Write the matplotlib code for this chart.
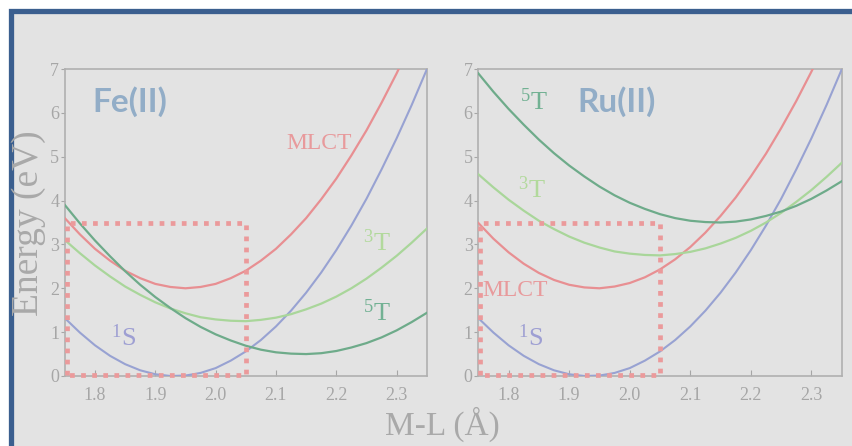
import matplotlib.pyplot as plt
from matplotlib.patches import Rectangle

# bond length grid (Angstrom) and potential energy curves (eV)
dist = [1.750, 1.775, 1.800, 1.825, 1.850, 1.875, 1.900, 1.925, 1.950, 1.975,
        2.000, 2.025, 2.050, 2.075, 2.100, 2.125, 2.150, 2.175, 2.200, 2.225,
        2.250, 2.275, 2.300, 2.325, 2.350]

fe_1s = [1.32, 0.99, 0.70, 0.46, 0.27, 0.13, 0.04, 0.00, 0.01, 0.07,
         0.18, 0.35, 0.56, 0.82, 1.13, 1.49, 1.90, 2.36, 2.87, 3.43,
         4.04, 4.71, 5.42, 6.18, 6.99]
fe_mlct = [3.60, 3.23, 2.90, 2.63, 2.40, 2.23, 2.10, 2.03, 2.00, 2.03,
           2.10, 2.23, 2.40, 2.63, 2.90, 3.23, 3.60, 4.03, 4.50, 5.03,
           5.60, 6.23, 6.90, 7.63, 8.40]
fe_3t = [3.10, 2.80, 2.52, 2.27, 2.04, 1.85, 1.68, 1.54, 1.43, 1.34,
         1.29, 1.26, 1.25, 1.28, 1.33, 1.41, 1.52, 1.65, 1.81, 2.00,
         2.22, 2.47, 2.74, 3.04, 3.36]
fe_5t = [3.90, 3.48, 3.09, 2.73, 2.39, 2.08, 1.80, 1.55, 1.32, 1.12,
         0.95, 0.81, 0.69, 0.60, 0.54, 0.51, 0.50, 0.52, 0.57, 0.65,
         0.75, 0.88, 1.04, 1.23, 1.44]

ru_1s = [1.32, 0.99, 0.70, 0.46, 0.27, 0.13, 0.04, 0.00, 0.01, 0.07,
         0.18, 0.35, 0.56, 0.82, 1.13, 1.49, 1.90, 2.36, 2.87, 3.43,
         4.04, 4.71, 5.42, 6.18, 6.99]
ru_mlct = [3.49, 3.13, 2.82, 2.56, 2.35, 2.19, 2.08, 2.02, 2.00, 2.04,
           2.12, 2.25, 2.43, 2.66, 2.94, 3.27, 3.65, 4.07, 4.55, 5.07,
           5.65, 6.27, 6.94, 7.66, 8.43]
ru_3t = [4.60, 4.30, 4.02, 3.77, 3.54, 3.35, 3.18, 3.04, 2.93, 2.84,
         2.79, 2.76, 2.75, 2.78, 2.83, 2.91, 3.02, 3.15, 3.31, 3.50,
         3.72, 3.97, 4.24, 4.54, 4.86]
ru_5t = [6.90, 6.48, 6.09, 5.73, 5.39, 5.08, 4.80, 4.55, 4.32, 4.12,
         3.95, 3.81, 3.69, 3.60, 3.54, 3.51, 3.50, 3.52, 3.57, 3.65,
         3.75, 3.88, 4.04, 4.23, 4.44]

# highlighted region (x range, energy range), closed outline
box_x = [1.753, 1.753, 2.05, 2.05, 1.753]
box_y = [0.03, 3.5, 3.5, 0.03, 0.03]

x_ticks = [1.8, 1.9, 2.0, 2.1, 2.2, 2.3]
x_tick_labels = ['1.8', '1.9', '2.0', '2.1', '2.2', '2.3']
y_ticks = [0, 1, 2, 3, 4, 5, 6, 7]

c_red = '#e88f92'
c_blue = '#98a2d2'
c_lgreen = '#a9d69a'
c_dgreen = '#6eab8a'
grey = '#a6a6a6'

plt.rcParams['font.family'] = ['Liberation Serif', 'DejaVu Serif']
plt.rcParams['mathtext.default'] = 'regular'

fig = plt.figure(figsize=(8.52, 4.46), dpi=100, facecolor='white')

# framed light grey panel with blue border
fig.patches.append(Rectangle((10.5 / 852, -0.2), 1.2, 1.2 - 10.5 / 446,
                             transform=fig.transFigure, facecolor='#e3e3e3',
                             edgecolor='#3b5f8f', linewidth=3.8, zorder=-10))

ax1 = fig.add_axes([64.8 / 852, 70 / 446, 362 / 852, 307 / 446])
ax2 = fig.add_axes([478.3 / 852, 70 / 446, 363.4 / 852, 307 / 446])

panels = [
    (ax1, fe_1s, fe_mlct, fe_3t, fe_5t),
    (ax2, ru_1s, ru_mlct, ru_3t, ru_5t),
]

for ax, s1, mlct, t3, t5 in panels:
    ax.set_facecolor('#e3e3e3')
    ax.plot(dist, mlct, color=c_red, lw=1.6, zorder=3)
    ax.plot(dist, s1, color=c_blue, lw=1.5, zorder=3)
    ax.plot(dist, t3, color=c_lgreen, lw=1.6, zorder=3)
    ax.plot(dist, t5, color=c_dgreen, lw=1.6, zorder=3)
    ax.plot(box_x, box_y, color='#eb9a9b', lw=3.4, linestyle=(0, (1, 1.35)),
            dash_capstyle='butt', zorder=4, clip_on=False)
    ax.set_xlim(1.75, 2.35)
    ax.set_ylim(0, 7)
    ax.set_xticks(x_ticks)
    ax.set_xticklabels(x_tick_labels)
    ax.set_yticks(y_ticks)
    ax.tick_params(axis='x', direction='in', length=4, width=0.8, color=grey,
                   labelcolor=grey, labelsize=13, pad=8)
    ax.tick_params(axis='y', direction='out', length=3, width=0.8, color=grey,
                   labelcolor=grey, labelsize=13, pad=1)
    for sp in ax.spines.values():
        sp.set_color('#b0b0b0')
        sp.set_linewidth(1.2)

# Fe(II) labels
ax1.text(1.795, 6.25, 'Fe(II)', family='Lato', fontweight='bold', fontsize=24,
         color='#92adc7', ha='left', va='center')
ax1.text(2.171, 5.31, 'MLCT', fontsize=17, color='#e89a9c', ha='center', va='center')
ax1.text(2.267, 3.05, '$^3$T', fontsize=19, color='#b2d99c', ha='center', va='center')
ax1.text(2.267, 1.45, '$^5$T', fontsize=19, color='#72b193', ha='center', va='center')
ax1.text(1.847, 0.88, '$^1$S', fontsize=19, color='#9e9fd3', ha='center', va='center')

# Ru(II) labels
ax2.text(1.913, 6.25, 'Ru(II)', family='Lato', fontweight='bold', fontsize=24,
         color='#92adc7', ha='left', va='center')
ax2.text(1.842, 6.25, '$^5$T', fontsize=19, color='#72b193', ha='center', va='center')
ax2.text(1.839, 4.24, '$^3$T', fontsize=19, color='#b2d99c', ha='center', va='center')
ax2.text(1.81, 1.96, 'MLCT', fontsize=17, color='#e89a9c', ha='center', va='center')
ax2.text(1.837, 0.88, '$^1$S', fontsize=19, color='#9e9fd3', ha='center', va='center')

fig.text(29 / 852, 1 - 223 / 446, 'Energy (eV)', rotation=90, fontsize=27,
         color='#a9a9a9', ha='center', va='center')
fig.text(442 / 852, 1 - 424 / 446, 'M-L (Å)', fontsize=24, color='#a9a9a9',
         ha='center', va='center')

fig.savefig('out.png', dpi=100, facecolor='white')
